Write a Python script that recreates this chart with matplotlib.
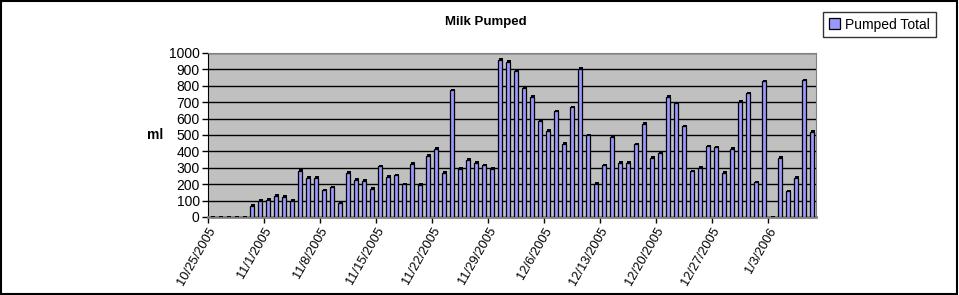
import matplotlib.pyplot as plt
import numpy as np
from matplotlib.patches import Rectangle

# daily pumped totals, 10/25/2005 .. 1/8/2006
tick_labels = ['10/25/2005', '11/1/2005', '11/8/2005', '11/15/2005', '11/22/2005',
               '11/29/2005', '12/6/2005', '12/13/2005', '12/20/2005', '12/27/2005',
               '1/3/2006']
pumped = [0, 0, 0, 0, 0,
          69, 98, 106, 130, 124, 98, 283, 240, 240, 163, 183,
          87, 270, 226, 220, 173, 309, 246, 254, 201, 325, 197, 374, 417, 270, 772,
          295, 348, 331, 315, 295, 959, 947, 892, 789, 734, 585, 526, 644, 447, 669, 904,
          500, 203, 315, 486, 331, 331, 445, 569, 360, 390, 734, 695, 553, 280, 300,
          431, 425, 270, 415, 703, 754, 211, 827, 0, 360, 157, 240, 833, 520]

plt.rcParams['font.family'] = ['Liberation Sans', 'DejaVu Sans']

fig = plt.figure(figsize=(9.59, 2.95), dpi=100)
ax = fig.add_axes([208/959, 1 - 217/295, 608/959, 164/295])
ax.set_facecolor('#C0C0C0')

x = np.arange(len(pumped)) + 0.5
vals = np.array(pumped)
# shadow then bar, Excel style
ax.bar(x + 0.13, vals + 9, width=0.58, color='black', zorder=3)
ax.bar(x, vals, width=0.58, color='#9999FF', edgecolor='black', linewidth=0.9,
       zorder=4, label='Pumped Total')

ax.set_xlim(0, len(pumped))
ax.set_ylim(0, 1000)
ax.set_yticks(np.arange(0, 1001, 100))
ax.yaxis.grid(True, color='black', linewidth=1)
ax.set_axisbelow(True)
ax.set_xticks(np.arange(0, len(pumped), 7))
ax.set_xticklabels(tick_labels, rotation=60, ha='right', rotation_mode='anchor')
ax.tick_params(axis='both', direction='out', length=4, width=1, colors='black')
ax.tick_params(axis='x', pad=2, labelsize=9.3)
ax.tick_params(axis='y', pad=2, labelsize=10)

for s in ['top', 'right']:
    ax.spines[s].set_color('#808080')
ax.spines['bottom'].set_color('#808080')
ax.spines['bottom'].set_linewidth(2)
ax.spines['left'].set_color('black')

ax.set_ylabel('ml', rotation=0, fontweight='bold', fontsize=10, labelpad=10,
              va='center', ha='center')
fig.text(486/959, 1 - 22/295, 'Milk Pumped', ha='center', va='center',
         fontweight='bold', fontsize=9.5)

leg = fig.legend(loc='upper left', bbox_to_anchor=(823/959, 1 - 12/295), fontsize=10,
                 frameon=True, fancybox=False, edgecolor='black', handlelength=0.8,
                 handleheight=0.8, handletextpad=0.4, borderpad=0.4, borderaxespad=0)
leg.get_frame().set_linewidth(1)

fig.patches.append(Rectangle((0.001, 0.004), 0.997, 0.994, transform=fig.transFigure,
                             fill=False, edgecolor='black', linewidth=1.5))

fig.savefig('out.png', dpi=100)
